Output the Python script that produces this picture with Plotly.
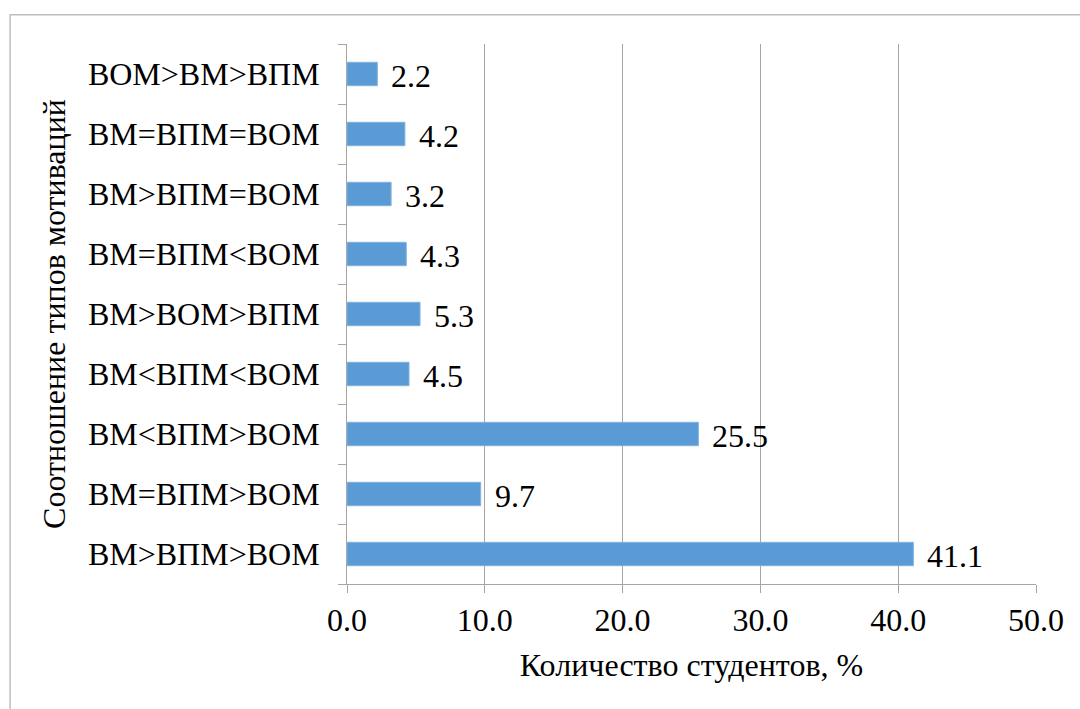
import plotly.graph_objects as go

categories = ["ВМ>ВПМ>ВОМ", "ВМ=ВПМ>ВОМ", "ВМ<ВПМ>ВОМ", "ВМ<ВПМ<ВОМ", "ВМ>ВОМ>ВПМ",
              "ВМ=ВПМ<ВОМ", "ВМ>ВПМ=ВОМ", "ВМ=ВПМ=ВОМ", "ВОМ>ВМ>ВПМ"]
values = [41.1, 9.7, 25.5, 4.5, 5.3, 4.3, 3.2, 4.2, 2.2]
x_ticks = [0, 10, 20, 30, 40, 50]
x_title = "Количество студентов, %"
y_title = "Соотношение типов мотиваций"

FONT = "Liberation Serif"
GRID = "#A6A6A6"

fig = go.Figure(go.Bar(
    x=values, y=categories, orientation="h",
    marker=dict(color="#5B9BD5", line=dict(color="#7FB2E0", width=1)),
    width=0.39,
))

for c, v in zip(categories, values):
    fig.add_annotation(x=v, y=c, text=f"{v:.1f}", showarrow=False,
                       xanchor="left", xshift=12, yshift=-2,
                       font=dict(family=FONT, size=32, color="black"))

fig.update_layout(
    width=1080, height=709,
    margin=dict(l=347, r=44, t=44, b=125),
    paper_bgcolor="white", plot_bgcolor="white",
    font=dict(family=FONT, size=32, color="black"),
    showlegend=False,
    shapes=[dict(type="rect", xref="paper", yref="paper",
                 x0=-0.489, x1=1.2, y0=-0.4, y1=1.054,
                 line=dict(color="#BFBFBF", width=1.5), layer="below")],
)
fig.update_xaxes(
    range=[0, 50], tickvals=x_ticks, ticktext=[f"{t:.1f}" for t in x_ticks],
    showgrid=True, gridcolor=GRID, gridwidth=1,
    showline=True, linecolor=GRID, linewidth=1,
    ticks="outside", ticklen=8, tickcolor=GRID,
    zeroline=False,
    tickfont=dict(family=FONT, size=32),
    title=dict(text=x_title, font=dict(family=FONT, size=32), standoff=16),
)
fig.update_yaxes(
    categoryorder="array", categoryarray=categories,
    showline=True, linecolor=GRID, linewidth=1,
    ticks="outside", ticklen=8, tickcolor=GRID, tickson="boundaries",
    showgrid=False,
    tickfont=dict(family=FONT, size=32),
    ticklabelstandoff=20,
    title=dict(text=y_title, font=dict(family=FONT, size=32), standoff=12),
)

fig.write_html("out.html", config={"displayModeBar": False},
               post_script="document.body.style.margin='0';document.body.style.overflow='hidden';")
